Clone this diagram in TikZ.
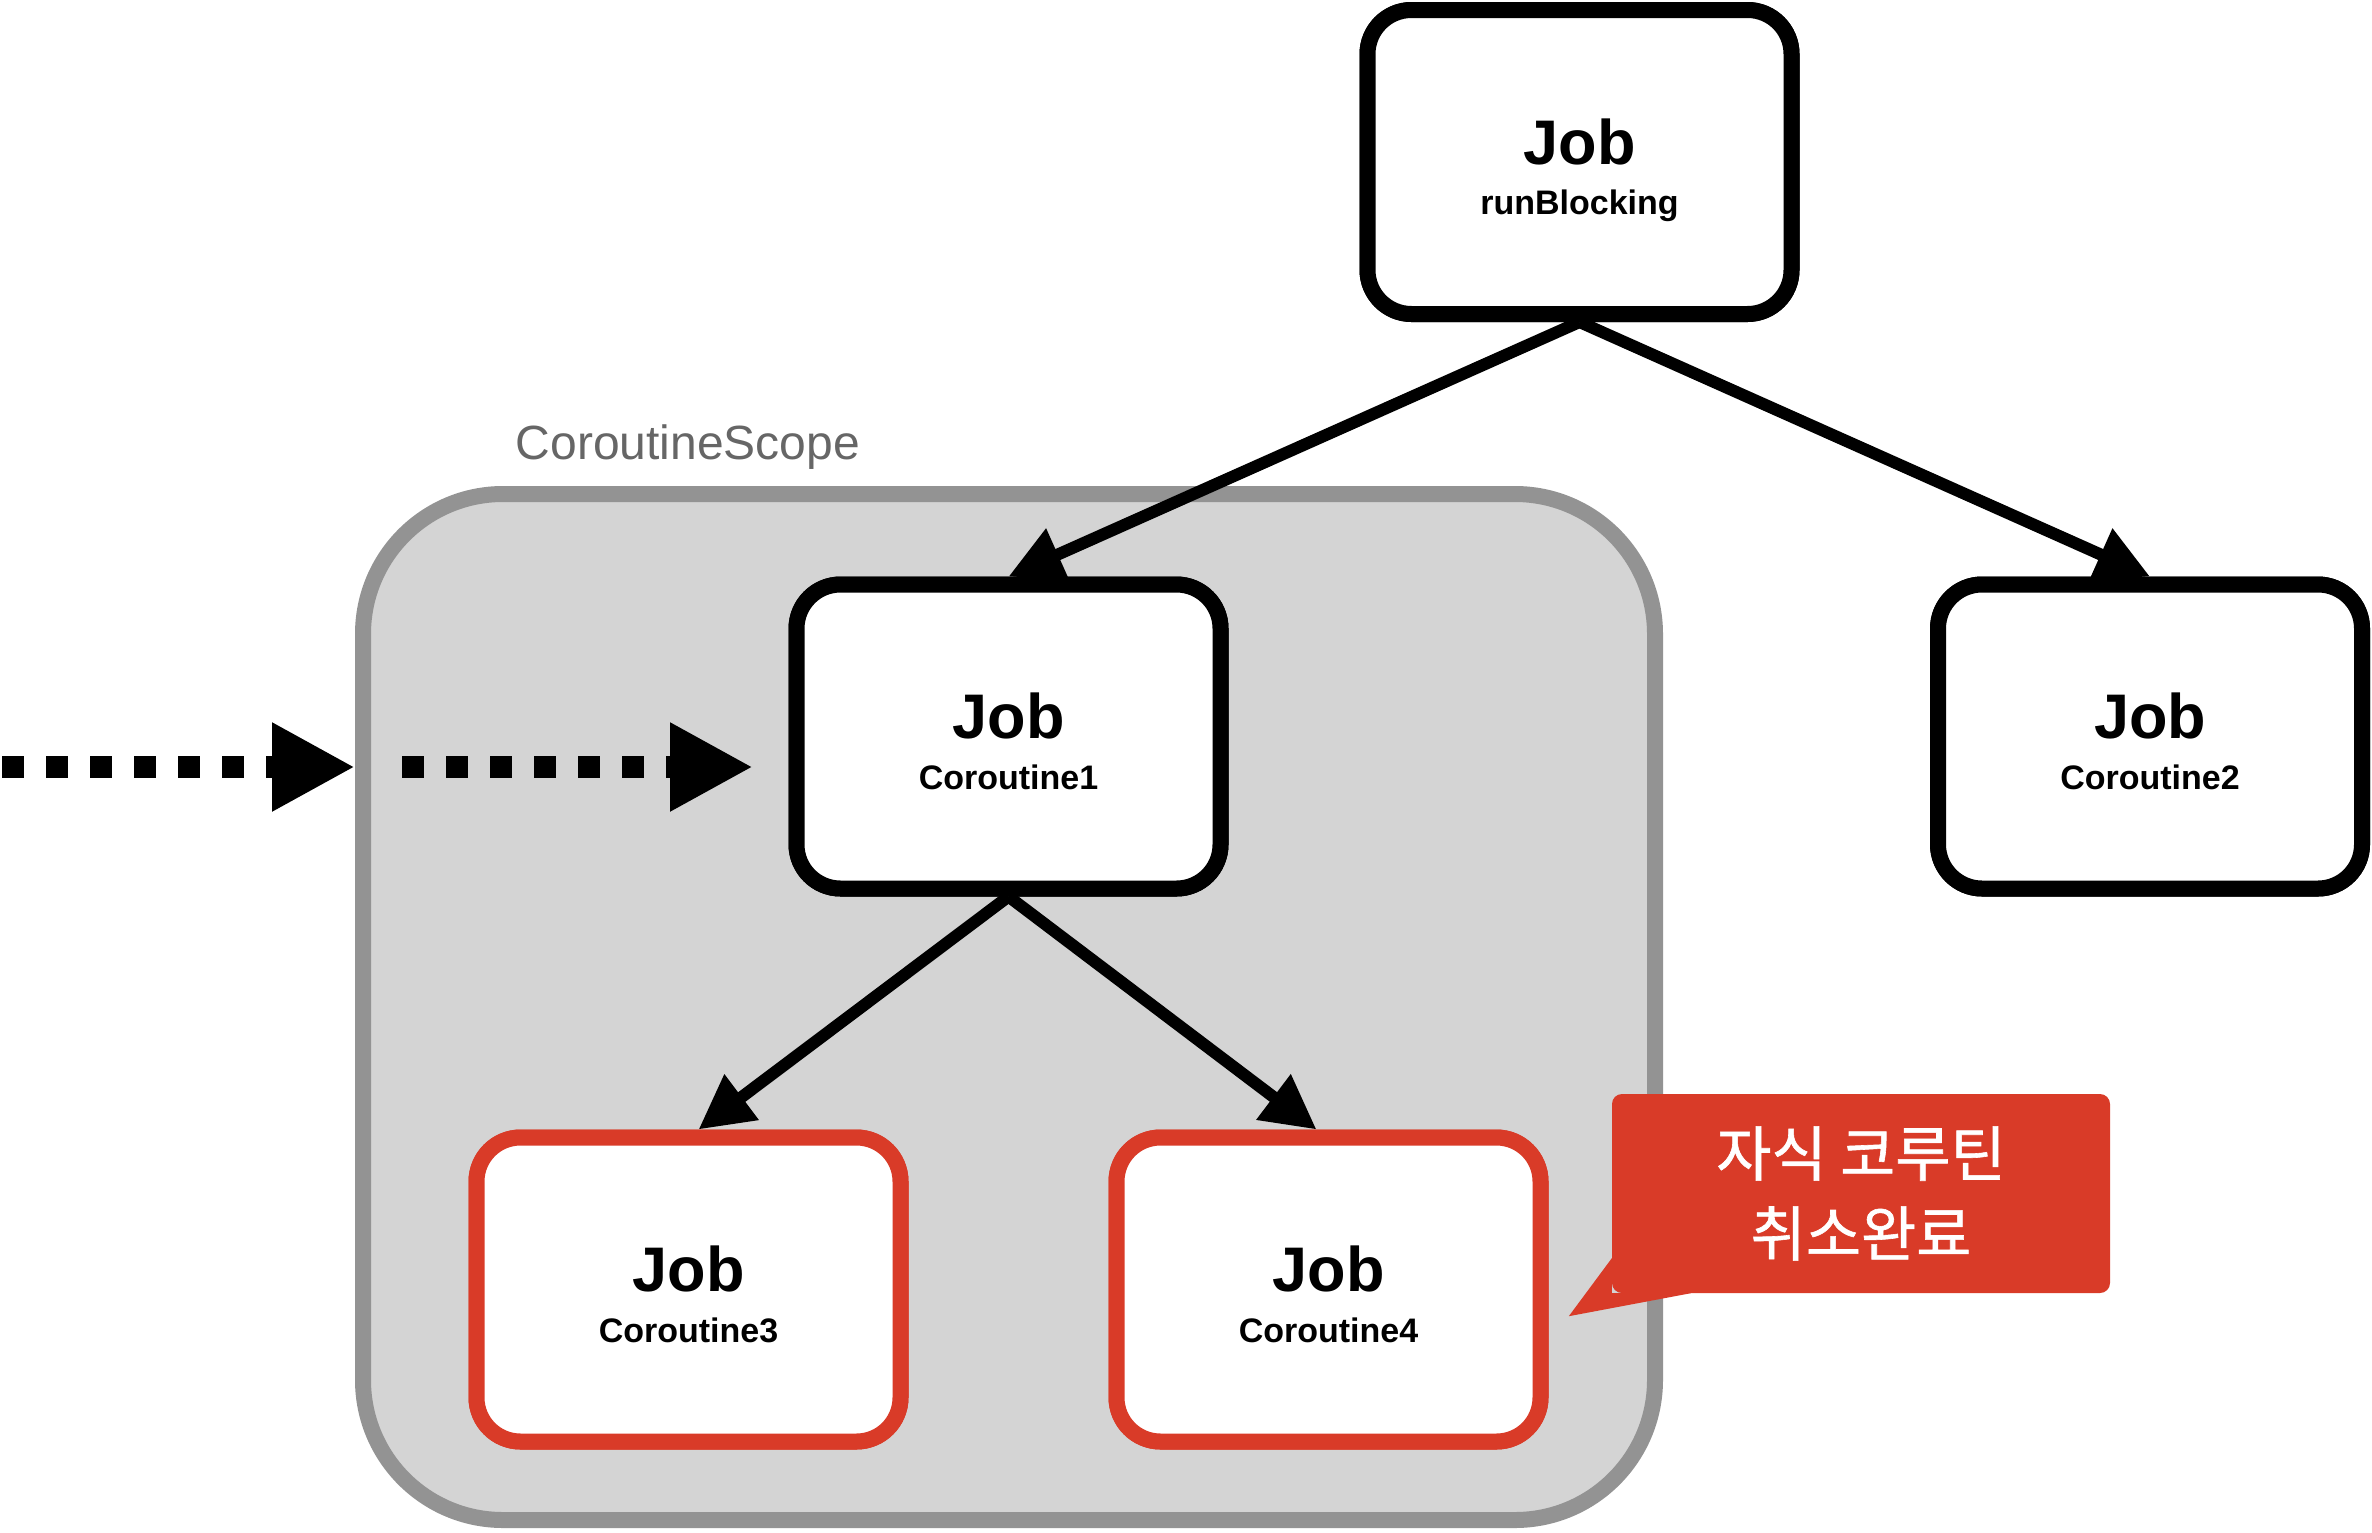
\documentclass[tikz,border=0pt]{standalone}
\usepackage{fontspec}
\setmainfont{Liberation Sans}
\newfontfamily\cjkfont[FakeBold=1]{Noto Sans CJK KR}
\usetikzlibrary{arrows.meta,calc}
\definecolor{jobred}{HTML}{D93B28}
\definecolor{scopefill}{HTML}{D4D4D4}
\definecolor{scopeline}{HTML}{939393}
\definecolor{scopetext}{HTML}{666666}
\begin{document}
\begin{tikzpicture}[x=1pt,y=-1pt,
  jobbox/.style={draw=black,line width=16pt,fill=white,rounded corners=44pt,minimum width=424pt,minimum height=304pt,inner sep=0pt},
  redbox/.style={jobbox,draw=jobred},
  jobtitle/.style={anchor=base,inner sep=0pt,font=\bfseries\fontsize{63}{63}\selectfont},
  jobsub/.style={anchor=base,inner sep=0pt,font=\bfseries\fontsize{34}{34}\selectfont},
  link/.style={line width=12pt,-{Triangle[length=54pt,width=54pt]}},
  dotlink/.style={line width=22pt,dash pattern=on 22pt off 22pt,-{Triangle[length=83pt,width=83pt]}},
  scopebox/.style={draw=scopeline,fill=scopefill,line width=16pt,rounded corners=140pt,minimum width=1292pt,minimum height=1026pt,inner sep=0pt},
  scopelabel/.style={anchor=base,inner sep=0pt,text=scopetext,font=\fontsize{48}{48}\selectfont},
  callout/.style={fill=jobred,rounded corners=10pt,minimum width=498pt,minimum height=199pt,inner sep=0pt,text=white,align=center,font=\cjkfont\fontsize{60}{80}\selectfont},
]
\useasboundingbox (0,0) rectangle (2372,1532);
\fill[white] (0,0) rectangle (2372,1532);

% scope
\node[scopebox] (scope) at (1009,1007) {};
\node[scopelabel] (scopelbl) at (688,459) {CoroutineScope};

% box centres
\path (1579.5,162) coordinate (rbc)
      (1008.5,736.5) coordinate (c1c)
      (2150,736.5) coordinate (c2c)
      (688.5,1289.5) coordinate (c3c)
      (1328.5,1289.5) coordinate (c4c);

\node[jobbox] (rb) at (rbc) {};
\node[jobbox] (c1) at (c1c) {};
\node[jobbox] (c2) at (c2c) {};
\node[redbox] (c3) at (c3c) {};
\node[redbox] (c4) at (c4c) {};

% connectors
\draw[link] (rb.south) -- (c1.north);
\draw[link] (rb.south) -- (c2.north);
\draw[link] (c1.south) -- ($(c3.north)+(10,0)$);
\draw[link] (c1.south) -- ($(c4.north)+(-12,0)$);

\coordinate (in0) at (2,767);
\coordinate (in1) at (402,767);
\coordinate (in1e) at (753,767);
\draw[dotlink] (in0) -- (in0 -| scope.west);
\draw[dotlink] (in1) -- (in1e);

% boxes on top of connectors
\node[jobbox] (rbtop) at (rbc) {};
\node[jobbox] (c1top) at (c1c) {};
\node[jobbox] (c2top) at (c2c) {};
\node[redbox] (c3top) at (c3c) {};
\node[redbox] (c4top) at (c4c) {};

\node[jobtitle] (rbt) at ($(rbc)+(0,2)$) {Job};
\node[jobsub] (rbs) at ($(rbc)+(0,52)$) {runBlocking};
\node[jobtitle] (c1t) at ($(c1c)+(0,2)$) {Job};
\node[jobsub] (c1s) at ($(c1c)+(0,53)$) {Coroutine1};
\node[jobtitle] (c2t) at ($(c2c)+(0,2)$) {Job};
\node[jobsub] (c2s) at ($(c2c)+(0,53)$) {Coroutine2};
\node[jobtitle] (c3t) at ($(c3c)+(0,2)$) {Job};
\node[jobsub] (c3s) at ($(c3c)+(0,53)$) {Coroutine3};
\node[jobtitle] (c4t) at ($(c4c)+(0,2)$) {Job};
\node[jobsub] (c4s) at ($(c4c)+(0,53)$) {Coroutine4};

% callout
\node[callout] (note) at (1861,1193.5) {자식 코루틴\\취소완료};
\fill[jobred] ($(note.south west)+(0,-35)$) -- ($(note.south west)+(-43,23)$) -- ($(note.south west)+(79,0)$) -- (note.south west) -- cycle;
\end{tikzpicture}
\end{document}
